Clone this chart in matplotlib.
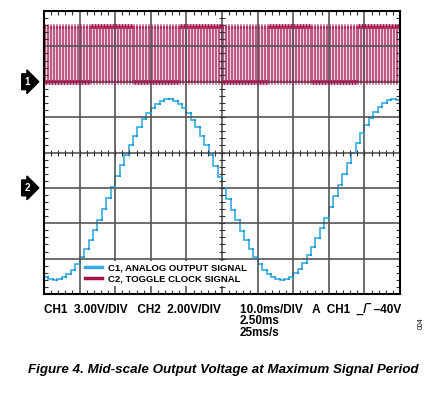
import numpy as np
import matplotlib
matplotlib.use('Agg')
import matplotlib.pyplot as plt
from matplotlib.lines import Line2D

plt.rcParams['font.family'] = ['Liberation Sans', 'DejaVu Sans']

# 示波器数据 (单位: 格)
# C1 模拟输出 阶梯电平, 每 0.125 格一个台阶
analog = [-3.52, -3.58, -3.60, -3.58, -3.53, -3.44, -3.31, -3.14, -2.95, -2.72,
          -2.47, -2.20, -1.91, -1.61, -1.30, -0.98, -0.67, -0.36, -0.06, 0.22,
          0.48, 0.72, 0.94, 1.12, 1.27, 1.38, 1.46, 1.50, 1.50, 1.46,
          1.38, 1.26, 1.11, 0.93, 0.72, 0.47, 0.21, -0.07, -0.37, -0.68,
          -0.99, -1.31, -1.62, -1.92, -2.21, -2.48, -2.73, -2.96, -3.15, -3.31,
          -3.44, -3.53, -3.58, -3.60, -3.58, -3.51, -3.41, -3.28, -3.11, -2.90,
          -2.67, -2.42, -2.14, -1.85, -1.54, -1.23, -0.92, -0.60, -0.30, 0.00,
          0.28, 0.54, 0.77, 0.98, 1.15, 1.29, 1.40, 1.47, 1.50, 1.49]

# C2 翻转时钟: 高低电平和周期数
clk_high = 3.58
clk_low = 2.0
clk_cycles = 120

ch_markers = [('1', 2.0), ('2', -1.0)]
labels = ['C1, ANALOG OUTPUT SIGNAL', 'C2, TOGGLE CLOCK SIGNAL']
blue = '#35abe2'
red = '#a3134a'

W, H = 442, 396
fig = plt.figure(figsize=(W / 100, H / 100), dpi=100)
ax = fig.add_axes([44 / W, 1 - 294 / H, 356 / W, 283 / H])
ax.set_xlim(0, 10)
ax.set_ylim(-4, 4)

# 网格
ax.set_xticks(np.arange(0, 11, 1))
ax.set_yticks(np.arange(-4, 5, 1))
ax.set_xticks(np.arange(0, 10.01, 0.2), minor=True)
ax.set_yticks(np.arange(-4, 4.01, 0.2), minor=True)
ax.grid(True, which='major', color='#555555', lw=1.2)
ax.tick_params(which='major', length=0, labelbottom=False, labelleft=False)
ax.tick_params(which='minor', direction='in', length=3, width=0.8,
               top=True, right=True, color='#333333')
for s in ax.spines.values():
    s.set_linewidth(1.5)

# 中心轴上的小刻度
mx = np.arange(0, 10.01, 0.2)
my = np.arange(-4, 4.01, 0.2)
ax.plot(mx, np.zeros_like(mx), '|', color='#333333', ms=5, mew=0.8)
ax.plot(np.full_like(my, 5.0), my, '_', color='#333333', ms=5, mew=0.8)

# 时钟信号
edges = np.linspace(0, 10, 2 * clk_cycles + 1)
levels = np.tile([clk_high, clk_low], clk_cycles)
ax.stairs(levels, edges, color=red, lw=0.9, alpha=0.7, baseline=None)
ax.hlines(levels, edges[:-1], edges[1:], color=red, lw=3.4)

# 模拟输出
a_edges = np.linspace(0, 10, len(analog) + 1)
ax.stairs(analog, a_edges, color=blue, lw=1.2, baseline=None)
ax.plot(a_edges[1:-1], analog[:-1], 's', color='#1e98d6', ms=1.8, mew=0)

# 通道标记
for name, lvl in ch_markers:
    ax.annotate(name, xy=(0, lvl), xycoords=('axes fraction', 'data'),
                xytext=(-12, 0), textcoords='offset points',
                ha='center', va='center', color='white', fontsize=7,
                fontweight='bold',
                bbox=dict(boxstyle='rarrow,pad=0.3', fc='black', ec='black'),
                annotation_clip=False)

handles = [Line2D([], [], color=blue, lw=2.5), Line2D([], [], color=red, lw=2.5)]
leg = ax.legend(handles, labels, loc='lower left', bbox_to_anchor=(0.095, 0.01),
                frameon=True, fancybox=False, edgecolor='none', framealpha=1,
                prop={'size': 6.8, 'weight': 'bold'}, handlelength=1.8,
                borderpad=0.3, labelspacing=0.2, handletextpad=0.6)

# 底部文字
def px(x, y):
    return x / W, 1 - y / H

fig.text(*px(44, 310), 'CH1  3.00V/DIV   CH2  2.00V/DIV', fontsize=8.5,
         fontweight='bold', va='center', ha='left')
fig.text(*px(240, 310), '10.0ms/DIV   A  CH1  _/\u203e \u201340V', fontsize=8.5,
         fontweight='bold', va='center', ha='left')
fig.text(*px(240, 321.5), '2.50ms', fontsize=8.5, fontweight='bold', va='center')
fig.text(*px(240, 333), '25ms/s', fontsize=8.5, fontweight='bold', va='center')
fig.text(*px(421, 323), '004', fontsize=5, rotation=90, va='center', ha='center')
fig.text(*px(223, 370), 'Figure 4. Mid-scale Output Voltage at Maximum Signal Period',
         fontsize=9.6, fontweight='bold', fontstyle='italic', ha='center', va='center')

fig.savefig('out.png', dpi=100)
